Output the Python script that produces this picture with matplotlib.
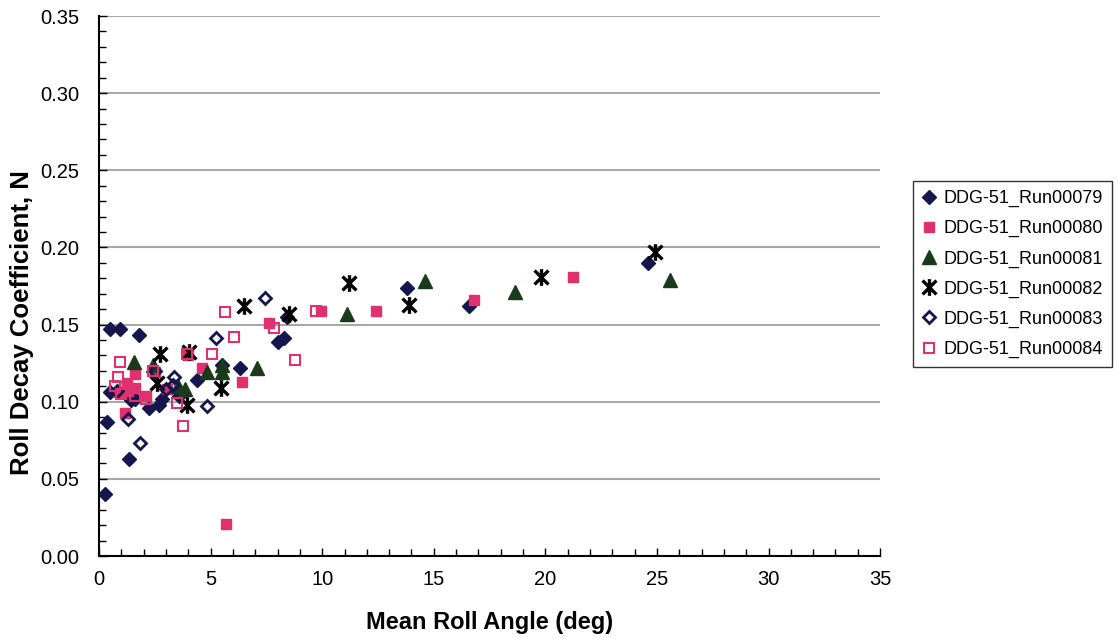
import matplotlib
matplotlib.use("Agg")
import matplotlib.pyplot as plt
from matplotlib.path import Path
from matplotlib.ticker import MultipleLocator, FormatStrFormatter

plt.rcParams['font.family'] = ['Liberation Sans', 'DejaVu Sans']

# Mean roll angle (deg) and roll decay coefficient N for each run
run79_x = [0.27, 0.35, 0.5, 0.95, 1.8, 1.35, 2.24, 1.6, 2.8, 0.5, 1.43, 2.7, 3.6, 4.4, 5.5, 6.3, 8.0, 8.3, 8.4, 13.8, 16.6, 24.6]
run79_y = [0.040, 0.087, 0.147, 0.147, 0.143, 0.063, 0.096, 0.102, 0.102, 0.106, 0.101, 0.098, 0.104, 0.114, 0.124, 0.122, 0.139, 0.141, 0.155, 0.174, 0.162, 0.190]

run80_x = [5.7, 1.17, 1.6, 1.25, 1.6, 1.3, 2.1, 2.5, 4.0, 4.6, 6.4, 7.6, 9.95, 12.4, 16.8, 21.25, 3.05, 0.9]
run80_y = [0.021, 0.093, 0.118, 0.112, 0.109, 0.107, 0.104, 0.119, 0.130, 0.122, 0.113, 0.151, 0.159, 0.159, 0.166, 0.181, 0.108, 0.106]

run81_x = [1.57, 2.4, 3.55, 3.85, 4.84, 5.5, 5.5, 7.1, 11.1, 14.6, 18.65, 25.6]
run81_y = [0.126, 0.124, 0.110, 0.108, 0.119, 0.124, 0.119, 0.122, 0.157, 0.178, 0.171, 0.179]

run82_x = [2.73, 4.05, 5.45, 3.95, 2.6, 6.5, 8.5, 11.2, 13.9, 19.8, 24.9]
run82_y = [0.131, 0.132, 0.109, 0.098, 0.112, 0.162, 0.157, 0.177, 0.163, 0.181, 0.197]

run83_x = [1.3, 1.84, 3.35, 4.84, 5.24, 7.44, 2.5, 3.0, 3.3, 0.8]
run83_y = [0.089, 0.073, 0.116, 0.097, 0.141, 0.167, 0.120, 0.108, 0.111, 0.107]

run84_x = [0.94, 0.84, 0.72, 1.0, 3.5, 3.77, 3.95, 5.05, 6.05, 5.65, 7.84, 8.8, 9.73, 2.4, 2.1, 1.6]
run84_y = [0.126, 0.116, 0.110, 0.105, 0.099, 0.084, 0.131, 0.131, 0.142, 0.158, 0.148, 0.127, 0.159, 0.120, 0.102, 0.104]

labels = ["DDG-51_Run00079", "DDG-51_Run00080", "DDG-51_Run00081",
          "DDG-51_Run00082", "DDG-51_Run00083", "DDG-51_Run00084"]

# Star marker: an "x" crossed by a vertical stroke
star_path = Path(
    [(-1, -1), (1, 1), (-1, 1), (1, -1), (0, -1.2), (0, 1.2)],
    [Path.MOVETO, Path.LINETO, Path.MOVETO, Path.LINETO, Path.MOVETO, Path.LINETO],
)

navy = "#16164f"
pink = "#e0306e"
green = "#1b3a1b"

fig = plt.figure(figsize=(11.18, 6.38), dpi=100)
ax = fig.add_axes([0.0886, 0.1285, 0.6986, 0.8464])

ax.plot(run79_x, run79_y, ls='none', marker='D', ms=7.2, mfc=navy, mec=navy, label=labels[0])
ax.plot(run80_x, run80_y, ls='none', marker='s', ms=7.5, mfc=pink, mec=pink, label=labels[1])
ax.plot(run81_x, run81_y, ls='none', marker='^', ms=9.5, mfc=green, mec=green, label=labels[2])
ax.plot(run82_x, run82_y, ls='none', marker=star_path, ms=12, mfc='none', mec='black', mew=2.4, label=labels[3])
ax.plot(run83_x, run83_y, ls='none', marker='D', ms=6.3, mfc='none', mec=navy, mew=2, label=labels[4])
ax.plot(run84_x, run84_y, ls='none', marker='s', ms=7.5, mfc='none', mec=pink, mew=1.5, label=labels[5])

ax.set_xlim(0, 35)
ax.set_ylim(0, 0.35)
ax.xaxis.set_major_locator(MultipleLocator(5))
ax.xaxis.set_minor_locator(MultipleLocator(1))
ax.yaxis.set_major_locator(MultipleLocator(0.05))
ax.yaxis.set_minor_locator(MultipleLocator(0.01))
ax.yaxis.set_major_formatter(FormatStrFormatter('%.2f'))

ax.grid(axis='y', which='major', color='#a8a8a8', lw=1.5)
ax.set_axisbelow(True)
for side in ('top', 'right'):
    ax.spines[side].set_visible(False)
for side in ('left', 'bottom'):
    ax.spines[side].set_color('black')
    ax.spines[side].set_linewidth(1.5)

ax.tick_params(which='both', direction='in', labelsize=14.5, colors='black')
ax.tick_params(which='major', length=6, width=1)
ax.tick_params(which='minor', length=5, width=1)
ax.tick_params(axis='x', pad=10)
ax.tick_params(axis='y', pad=14)

ax.set_xlabel("Mean Roll Angle (deg)", fontsize=17, fontweight='bold', labelpad=16)
ax.set_ylabel("Roll Decay Coefficient, N", fontsize=18.5, fontweight='bold')
ax.yaxis.set_label_coords(-0.083, 0.433)

leg = fig.legend(loc='upper left', bbox_to_anchor=(0.8166, 0.7163), fontsize=13,
                 frameon=True, fancybox=False, edgecolor='black', handlelength=0.8,
                 handletextpad=0.4, labelspacing=0.72, borderpad=0.5, borderaxespad=0)
leg.get_frame().set_linewidth(1.0)

fig.savefig("out.png", dpi=100)
